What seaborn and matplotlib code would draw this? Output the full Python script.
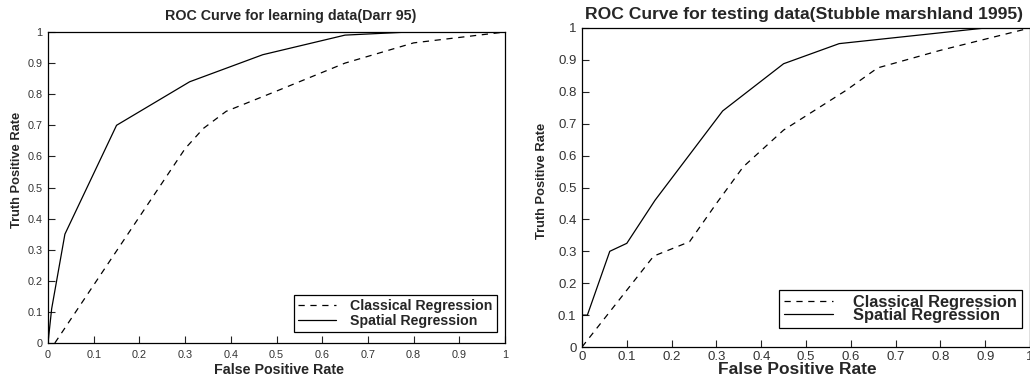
import matplotlib
matplotlib.use("Agg")
import matplotlib.pyplot as plt
import seaborn as sns
import pandas as pd

# ROC curve points, learning data (Darr 95)
learn_classical_fpr = [0.015, 0.30, 0.34, 0.39, 0.50, 0.65, 0.80, 1.00]
learn_classical_tpr = [0.00, 0.625, 0.69, 0.745, 0.81, 0.90, 0.965, 1.00]
learn_spatial_fpr = [0.00, 0.008, 0.037, 0.15, 0.31, 0.47, 0.65, 0.79, 1.00]
learn_spatial_tpr = [0.00, 0.11, 0.35, 0.70, 0.84, 0.927, 0.99, 1.00, 1.00]

# ROC curve points, testing data (Stubble marshland 1995)
test_classical_fpr = [0.00, 0.16, 0.24, 0.30, 0.36, 0.45, 0.59, 0.66, 0.80, 1.00]
test_classical_tpr = [0.00, 0.285, 0.33, 0.45, 0.565, 0.68, 0.805, 0.875, 0.93, 1.00]
test_spatial_fpr = [0.00, 0.012, 0.062, 0.10, 0.163, 0.314, 0.45, 0.574, 0.90, 1.00]
test_spatial_tpr = [0.10, 0.10, 0.30, 0.325, 0.46, 0.74, 0.888, 0.951, 1.00, 1.00]

tick_values = [0, 0.1, 0.2, 0.3, 0.4, 0.5, 0.6, 0.7, 0.8, 0.9, 1]
tick_labels = ["0", "0.1", "0.2", "0.3", "0.4", "0.5", "0.6", "0.7", "0.8", "0.9", "1"]

series_names = ["Classical Regression", "Spatial Regression"]

sns.set_style("white")
plt.rcParams["font.family"] = ["Liberation Sans", "DejaVu Sans"]

fig = plt.figure(figsize=(10.30, 3.79), dpi=100)
ax_l = fig.add_axes([48 / 1030, 36 / 379, 457 / 1030, 311 / 379])
ax_r = fig.add_axes([582 / 1030, 32 / 379, 448 / 1030, 319 / 379])


def draw_panel(ax, cfpr, ctpr, sfpr, stpr, title, st):
    df = pd.concat([
        pd.DataFrame({"fpr": cfpr, "tpr": ctpr, "model": series_names[0]}),
        pd.DataFrame({"fpr": sfpr, "tpr": stpr, "model": series_names[1]}),
    ])
    sns.lineplot(data=df, x="fpr", y="tpr", style="model",
                 dashes={series_names[0]: (5, 4.5), series_names[1]: ""},
                 color="black", linewidth=0.9, sort=False, estimator=None,
                 ax=ax, legend=True)
    ax.set_xlim(0, 1)
    ax.set_ylim(0, 1)
    ax.set_xticks(tick_values)
    ax.set_xticklabels(tick_labels)
    ax.set_yticks(tick_values)
    ax.set_yticklabels(tick_labels)
    ax.tick_params(direction="in", length=5, width=0.8, colors="#222222",
                   labelsize=st["tick"], labelcolor="#333333",
                   bottom=True, left=True, top=False, right=False)
    ax.tick_params(axis="x", pad=st["xpad"])
    ax.tick_params(axis="y", pad=4)
    for sp in ax.spines.values():
        sp.set_color("black")
        sp.set_linewidth(0.9)
    ax.set_xlabel("False Positive Rate", fontsize=st["xlabel"],
                  fontweight="bold", va="center")
    ax.xaxis.set_label_coords(*st["xlabel_xy"])
    ax.set_ylabel("Truth Positive Rate", fontsize=9.3,
                  fontweight="bold", va="center")
    ax.yaxis.set_label_coords(*st["ylabel_xy"])
    ax.text(st["title_xy"][0], st["title_xy"][1], title,
            transform=ax.transAxes, ha="center", va="center",
            fontsize=st["title"], fontweight="bold")
    handles, labels = ax.get_legend_handles_labels()
    leg = ax.legend(handles, labels, loc="lower right",
                    bbox_to_anchor=st["legend_anchor"], borderaxespad=0,
                    frameon=True, fancybox=False,
                    framealpha=1, edgecolor="black", borderpad=st["borderpad"],
                    labelspacing=st["labelspacing"],
                    handlelength=st["handlelength"],
                    handletextpad=st["textpad"],
                    prop={"weight": "bold", "size": st["legend"]})
    leg.get_frame().set_linewidth(0.9)
    for h in leg.get_lines():
        h.set_linewidth(0.9)


left_style = dict(tick=7.8, xpad=5, xlabel=10.3, xlabel_xy=(0.505, -0.087),
                  ylabel_xy=(-0.067, 0.556), title=10.3, title_xy=(0.53, 1.051),
                  legend_anchor=(0.9825, 0.035), borderpad=0.3, labelspacing=0.05,
                  handlelength=2.7, textpad=1.0, legend=10.2)
right_style = dict(tick=9.5, xpad=3, xlabel=12.5, xlabel_xy=(0.48, -0.072),
                   ylabel_xy=(-0.089, 0.52), title=12.6, title_xy=(0.496, 1.041),
                   legend_anchor=(0.982, 0.06), borderpad=0.3, labelspacing=-0.1,
                   handlelength=3.0, textpad=1.2, legend=11.8)

draw_panel(ax_l, learn_classical_fpr, learn_classical_tpr,
           learn_spatial_fpr, learn_spatial_tpr,
           "ROC Curve for learning data(Darr 95)", left_style)
draw_panel(ax_r, test_classical_fpr, test_classical_tpr,
           test_spatial_fpr, test_spatial_tpr,
           "ROC Curve for testing data(Stubble marshland 1995)", right_style)

fig.savefig("out.png", dpi=100)
